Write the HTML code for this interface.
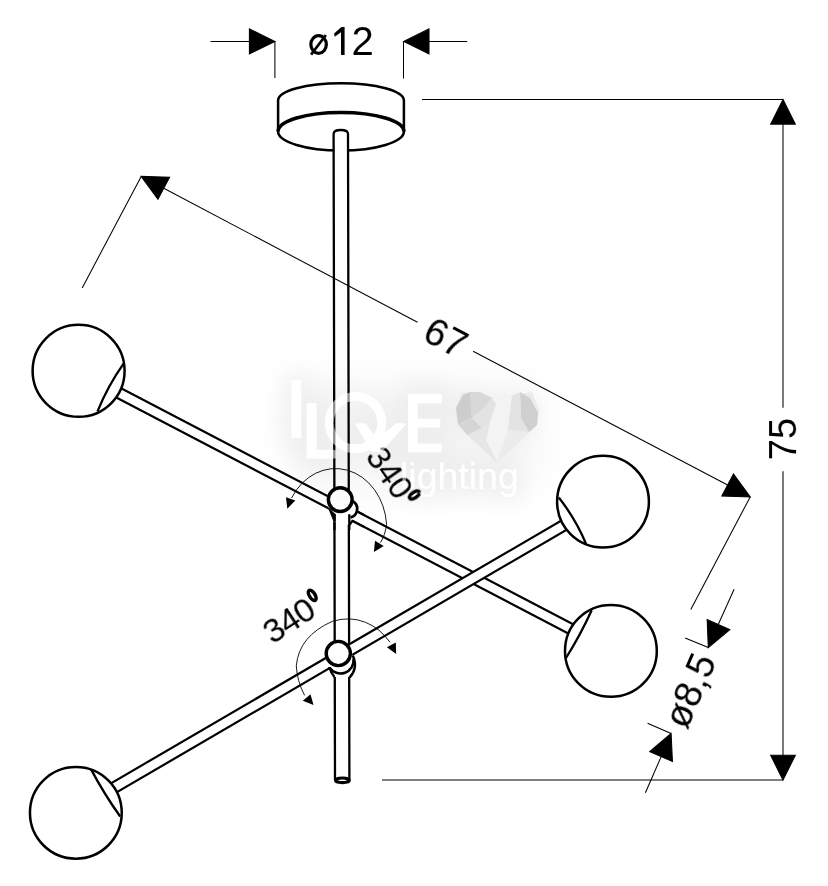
<!DOCTYPE html>
<html><head><meta charset="utf-8"><style>
html,body{margin:0;padding:0;background:#fff;width:828px;height:886px;overflow:hidden}
svg{display:block}
</style></head><body>
<svg width="828" height="886" viewBox="0 0 828 886">
<defs><mask id="nolet" maskUnits="userSpaceOnUse" x="0" y="0" width="828" height="886"><rect x="0" y="0" width="828" height="886" fill="#fff"/><g fill="#000" stroke="#000">
 <rect x="292" y="381" width="8.7" height="56.5"/>
 <path d="M307.2,403.7 h8.7 v46.7 h19.5 v7.6 h-28.2 Z"/>
 <circle cx="355.5" cy="422.7" r="26.2" fill="none" stroke-width="8.7"/>
 <path d="M356,423.9 L365.5,423.9 L377,440 L396,423.9 L405.5,423.9 L382,451 L371,451 Z"/>
 <path d="M408.5,394.3 h33 v8.5 h-24.5 v16.5 h22.8 v7.6 h-22.8 v17.3 h24.5 v7.6 h-33 Z"/>
<text x="400" y="489" font-family="&quot;Liberation Sans&quot;, sans-serif" font-size="37.5" stroke="none">lighting</text></g></mask><filter id="blur" x="-50%" y="-50%" width="200%" height="200%"><feGaussianBlur stdDeviation="11"/></filter><filter id="blur2" x="-50%" y="-50%" width="200%" height="200%"><feGaussianBlur stdDeviation="18"/></filter><filter id="ident"><feColorMatrix type="identity"/></filter><filter id="soft"><feGaussianBlur stdDeviation="0.5"/></filter></defs>
<g stroke="#000" fill="#fff" stroke-width="2.5">
<path d="M278.1,100.5 A62.9,17.3 0 0 1 403.9,100.5 L403.9,131.5 A62.9,19 0 0 1 278.1,131.5 Z"/>
<path d="M278.1,131.5 A62.9,19 0 0 1 403.9,131.5" fill="none" stroke-width="3.6"/>
</g>
<path d="M333.6,134 Q333.6,130 340.8,130 Q348,130 348,134 L349.4,780 L335,780 Z" fill="#fff" stroke="none"/>
<g stroke="#000" stroke-width="2.3" fill="none">
<path d="M335,780 L333.6,134 Q333.6,130 340.8,130 Q348,130 348,134 L349.4,780"/>
<ellipse cx="342.4" cy="780.3" rx="6.9" ry="2.3" stroke-width="3.1" fill="#fff"/>
</g>
<polygon fill="#fff" stroke="none" points="78.5,366.04 610.9,644.01 610.9,655.76 78.5,377.79"/><g stroke="#000" stroke-width="2.2"><line x1="78.5" y1="366.04" x2="610.9" y2="644.01"/><line x1="78.5" y1="377.79" x2="610.9" y2="655.76"/></g>
<g stroke="#000" fill="#fff" stroke-width="2.4">
<path d="M327.5,505 L333,522 L350,525 L352.4,521 L358,512.5 L358,505 L353,493 Z" stroke="none"/>
<path d="M334.5,514.3 V530 M349.3,514.3 V530" fill="none" stroke-width="2.3"/>
<path d="M349.6,524.8 L352.4,520.8 L364,526.9 M356.8,511.1 L364,514.9" fill="none" stroke-width="2.2"/>
<polygon points="327.4,506.5 331,509.6 332.6,511.4 335.7,514.3 335.7,521 333.3,521" fill="#000" stroke="none"/>
<path d="M352.5,501 A8.97,8.97 0 0 1 350.6,517.5" fill="none" stroke-width="2.7"/>
<circle cx="340.25" cy="499.6" r="11.9" stroke-width="3.4"/>
</g>
<polygon fill="#fff" stroke="none" points="75.85,803.84 603,496.26 603,508.56 75.85,816.14"/><g stroke="#000" stroke-width="2.2"><line x1="75.85" y1="803.84" x2="603" y2="496.26"/><line x1="75.85" y1="816.14" x2="603" y2="508.56"/></g>
<g stroke="#000" fill="#fff" stroke-width="2.4">
<path d="M328.5,666 Q331,672 334.2,677 L349.4,677 Q357,670 353,656 Z" stroke="none"/>
<circle cx="340.5" cy="660.4" r="13.1" stroke="none"/>
<path d="M352.8,655.5 Q358.5,668 349.6,677.5" fill="none"/>
<path d="M329.2,667 Q331,673 334.4,677" fill="none"/>
<path d="M329.6,667.7 A13.1,13.1 0 0 0 353.5,659" fill="none" stroke-width="2.6"/>
<circle cx="338.3" cy="653.5" r="12.1" stroke-width="3.4"/>
</g>
<circle cx="78.6" cy="370.8" r="46" fill="#fff" stroke="#000" stroke-width="2.5"/><path d="M123.6,363.6 Q107.74,385.97 97.5,411.4" fill="none" stroke="#000" stroke-width="2.3"/>
<circle cx="610.9" cy="650.9" r="45.9" fill="#fff" stroke="#000" stroke-width="2.5"/><path d="M591.7,610.3 Q580.43,635 566,658" fill="none" stroke="#000" stroke-width="2.3"/>
<circle cx="75.85" cy="812.8" r="45.9" fill="#fff" stroke="#000" stroke-width="2.5"/><path d="M91.2,769.6 Q104.17,794 120.2,816.5" fill="none" stroke="#000" stroke-width="2.3"/>
<circle cx="603" cy="501.7" r="45.9" fill="#fff" stroke="#000" stroke-width="2.5"/><path d="M558.8,497.5 Q575.5,518.77 586,543.7" fill="none" stroke="#000" stroke-width="2.3"/>
<g stroke="#000" stroke-width="1.05" fill="#000">
<line x1="210.6" y1="41.4" x2="250" y2="41.4"/>
<polygon points="274.9,41.4 249.4,28.9 249.4,53.9"/>
<line x1="274.9" y1="41.4" x2="274.9" y2="78"/>
<line x1="429" y1="41.4" x2="467.2" y2="41.4"/>
<polygon points="403.5,41.4 429,53.9 429,28.9"/>
<line x1="403.5" y1="41.4" x2="403.5" y2="78.6"/>
<line x1="422" y1="99.4" x2="783" y2="99.4"/>
<polygon points="783,99.4 770.65,124.1 795.35,124.1"/>
<line x1="783" y1="120" x2="783" y2="407.8"/>
<line x1="783" y1="471.3" x2="783" y2="760"/>
<polygon points="783,780 795.35,755.3 770.65,755.3"/>
<line x1="382" y1="780" x2="783" y2="780"/>
<polygon points="141.2,176.4 157.94,199.34 169.59,177.21"/>
<polygon points="750.2,496.9 733.46,473.96 721.81,496.09"/>
<line x1="160" y1="186.3" x2="417.5" y2="322.3"/>
<line x1="473.1" y1="351.3" x2="730" y2="486.3"/>
<line x1="82.2" y1="287.9" x2="141.2" y2="176.4"/>
<line x1="750.2" y1="496.9" x2="690.8" y2="609.4"/>
<polygon points="708.3,647.6 729.84,629.57 707.16,619.54"/>
<polygon points="671.1,733.5 649.69,751.68 672.44,761.55"/>
<line x1="718" y1="625" x2="734.1" y2="589.3"/>
<line x1="661" y1="757" x2="645.4" y2="792.7"/>
<line x1="708.3" y1="647.6" x2="685.1" y2="637.9"/>
<line x1="671.1" y1="733.5" x2="647.6" y2="723.2"/>
</g>
<g stroke="#000" stroke-width="0.9" fill="none">
<path d="M291.5,498.1 A51.2,60.3 0 0 1 386.6,524.3 Q385,536 380.4,542.6"/>
<path d="M304.6,695.4 Q297,681 296.3,665.7 Q299,636 332.4,621.3 Q350,616 365.4,622.3 Q380,628 389.9,642.2"/>
</g><g fill="#000">
<polygon points="286,497.3 295.3,500.6 287.3,508.7"/>
<polygon points="375,540.8 383.7,545.9 373.9,552"/>
<polygon points="302.8,700.7 310.5,694.2 313.5,704.9"/>
<polygon points="386.9,647.3 395.8,642.6 396.2,654"/>
</g>
<g font-family="&quot;Liberation Sans&quot;, sans-serif" fill="#000" filter="url(#ident)">
<text x="351.4" y="54.6" font-size="40">2</text>
<polygon points="341.4,27.1 344.6,27.1 344.6,54.9 341,54.9 341,32.3 334.7,36.8 334.1,33.6"/>
<ellipse cx="318.6" cy="44.5" rx="7.75" ry="8.9" fill="none" stroke="#000" stroke-width="3.2"/>
<line x1="311.1" y1="54.6" x2="325.9" y2="35" stroke="#000" stroke-width="2.6"/>
<text x="0" y="0" font-size="38" text-anchor="middle" transform="translate(446,337.3) rotate(27.76) translate(0,13.6)">67</text>
<text x="0" y="0" font-size="38" text-anchor="middle" transform="translate(782.5,439) rotate(-90) translate(0,13.6)">75</text>
<text x="0" y="0" font-size="38" text-anchor="middle" transform="translate(689.7,690.5) rotate(-66.6) translate(0,13.6)">ø8,5</text>
<text x="-34.1" y="12" font-size="33" transform="translate(394,477.7) rotate(55)">340</text>
<text x="-34.5" y="12" font-size="34" letter-spacing="-1" transform="translate(294.8,616) rotate(-33)">340</text>
</g>
<g fill="none" stroke="#000" stroke-width="3.4">
<ellipse cx="0" cy="0" rx="2.8" ry="5.9" transform="translate(414.5,495) rotate(55)"/>
<ellipse cx="0" cy="0" rx="2.8" ry="5.9" transform="translate(312.2,595.3) rotate(-33)"/>
</g>
<g mask="url(#nolet)"><g filter="url(#blur)" fill="#000" stroke="#000" stroke-width="24" stroke-linejoin="round" opacity="0.035">
 <rect x="292" y="381" width="8.7" height="56.5"/>
 <path d="M307.2,403.7 h8.7 v46.7 h19.5 v7.6 h-28.2 Z"/>
 <circle cx="355.5" cy="422.7" r="26.2" fill="none" stroke-width="8.7"/>
 <path d="M356,423.9 L365.5,423.9 L377,440 L396,423.9 L405.5,423.9 L382,451 L371,451 Z"/>
 <path d="M408.5,394.3 h33 v8.5 h-24.5 v16.5 h22.8 v7.6 h-22.8 v17.3 h24.5 v7.6 h-33 Z"/>

 <path d="M460,408 L464,398 L476,396 L488,400 L497,405 L506,400 L519,396 L531,398 L535,408 L533,422 L520,436 L497,455 L474,436 L462,422 Z" stroke-width="6"/>
<text x="400" y="489" font-family="&quot;Liberation Sans&quot;, sans-serif" font-size="37.5" stroke-width="16">lighting</text></g><g filter="url(#blur2)" fill="#000" opacity="0.03"><rect x="285" y="375" width="260" height="120" rx="40"/></g></g>
<g fill="#fff" stroke="#fff" opacity="0.55">
 <rect x="292" y="381" width="8.7" height="56.5"/>
 <path d="M307.2,403.7 h8.7 v46.7 h19.5 v7.6 h-28.2 Z"/>
 <circle cx="355.5" cy="422.7" r="26.2" fill="none" stroke-width="8.7"/>
 <path d="M356,423.9 L365.5,423.9 L377,440 L396,423.9 L405.5,423.9 L382,451 L371,451 Z"/>
 <path d="M408.5,394.3 h33 v8.5 h-24.5 v16.5 h22.8 v7.6 h-22.8 v17.3 h24.5 v7.6 h-33 Z"/>
</g><text x="400" y="489" font-family="&quot;Liberation Sans&quot;, sans-serif" font-size="37.5" fill="#fff" opacity="0.55">lighting</text><g filter="url(#soft)">
 <polygon points="462,392 497,398 532,392 539,410 537,425 497,463 458,425 455,408" fill="#ebebeb"/>
 <polygon points="456,408 463,395 470,392 472,418 458,424" fill="#cdcdcd"/>
 <polygon points="470,392 480,392 492,398 484,408 472,418" fill="#d8d8d8"/>
 <polygon points="458,424 472,418 482,428 467,435" fill="#d5d5d5"/>
 <polygon points="472,418 484,408 492,398 496,404 490,422 482,428" fill="#e3e3e3"/>
 <polygon points="492,398 512,396 508,430 497,462 486,440 490,422 496,404" fill="#f3f3f3"/>
 <polygon points="467,435 482,428 490,422 486,440 497,462" fill="#e6e6e6"/>
 <polygon points="520,392 530,398 538,413 537,425 529,432 521,418" fill="#d0d0d0"/>
 <polygon points="512,396 520,392 521,418 529,432 508,430" fill="#e3e3e3"/>
 <polygon points="508,430 529,432 497,462" fill="#ececec"/>
</g>
</svg>
</body></html>
